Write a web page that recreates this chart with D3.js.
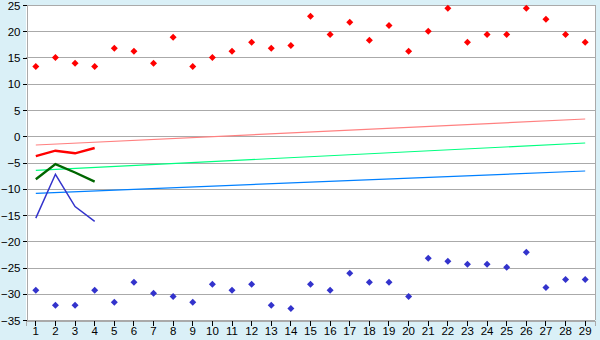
<!DOCTYPE html>
<html>
<head>
<meta charset="utf-8">
<script src="https://cdn.jsdelivr.net/npm/d3@7"></script>
<style>
  body { margin: 0; background: #daf0f7; }
  svg { display: block; }
  .tick text { font-family: "Liberation Sans", Arial, sans-serif; font-size: 11.5px; fill: #000; }
</style>
</head>
<body>
<svg id="chart" width="600" height="340"></svg>
<script>
// categories on the x axis
const days = d3.range(1, 30);

// upper scatter (red) and lower scatter (blue)
const highs = [13.3, 15.0, 13.9, 13.3, 16.75, 16.2, 13.9, 18.85, 13.3, 15.0,
  16.2, 17.9, 16.75, 17.3, 22.85, 19.4, 21.7, 18.3, 21.1, 16.2,
  20.0, 24.4, 17.9, 19.4, 19.4, 24.4, 22.3, 19.4, 17.9];
const lows = [-29.35, -32.2, -32.2, -29.35, -31.6, -27.8, -29.9, -30.5, -31.6, -28.2,
  -29.35, -28.2, -32.2, -32.8, -28.2, -29.35, -26.1, -27.8, -27.8, -30.5,
  -23.25, -23.8, -24.4, -24.4, -24.95, -22.1, -28.8, -27.3, -27.3];

// short series over the first four days
const shortRed = [-3.8, -2.75, -3.25, -2.24];
const shortGreen = [-8.2, -5.3, -6.9, -8.65];
const shortBlue = [-15.6, -7.25, -13.4, -16.2];

// trend lines: value at day 1 and day 29
const trendPink = [-1.67, 3.29];
const trendGreen = [-6.5, -1.29];
const trendBlue = [-10.87, -6.62];

const yTicks = d3.range(-35, 26, 5);

const svg = d3.select('#chart');
const mLeft = 26, mRight = 595, mTop = 5, mBottom = 320;

const x = d3.scaleBand().domain(days).range([mLeft, mRight]);
const cx = d => x(d) + x.bandwidth() / 2;
const y = d3.scaleLinear().domain([-35, 25]).range([mBottom, mTop]);

svg.append('rect')
    .attr('x', mLeft).attr('y', mTop)
    .attr('width', mRight - mLeft).attr('height', mBottom - mTop)
    .attr('fill', '#fff');

// grid
svg.append('g')
    .selectAll('line')
    .data(yTicks)
    .join('line')
        .attr('x1', mLeft).attr('x2', mRight)
        .attr('y1', d => Math.round(y(d)) + 0.5)
        .attr('y2', d => Math.round(y(d)) + 0.5)
        .attr('stroke', '#aaa')
        .attr('shape-rendering', 'crispEdges');

svg.append('line')
    .attr('x1', mRight + 0.5).attr('x2', mRight + 0.5)
    .attr('y1', mTop).attr('y2', mBottom)
    .attr('stroke', '#aaa')
    .attr('shape-rendering', 'crispEdges');

// axes
const yAxis = svg.append('g')
    .attr('transform', `translate(${mLeft + 0.5},0)`)
    .call(d3.axisLeft(y).tickValues(yTicks).tickSize(4).tickPadding(2).tickFormat(d3.format('d')));
const xAxis = svg.append('g')
    .attr('transform', `translate(0,${mBottom + 0.5})`)
    .call(d3.axisBottom(x).tickSize(5).tickPadding(3));
[yAxis, xAxis].forEach(a => {
    a.select('.domain').attr('stroke', '#aaa').attr('shape-rendering', 'crispEdges');
    a.selectAll('.tick line').attr('stroke', '#000').attr('shape-rendering', 'crispEdges');
});
xAxis.selectAll('.tick text').attr('dy', '0.6em');
yAxis.selectAll('.tick text').attr('dy', '0.35em');

// trend lines
const trends = [[trendPink, '#ff8080'], [trendGreen, '#00ff80'], [trendBlue, '#0080ff']];
svg.append('g')
    .selectAll('line')
    .data(trends)
    .join('line')
        .attr('x1', cx(days[0])).attr('x2', cx(days[days.length - 1]))
        .attr('y1', d => y(d[0][0])).attr('y2', d => y(d[0][1]))
        .attr('stroke', d => d[1])
        .attr('stroke-width', 1.2);

// short series
const line = d3.line().x((d, i) => cx(days[i])).y(d => y(d));
const shorts = [[shortRed, '#ff0000', 2.4], [shortGreen, '#006600', 2.4], [shortBlue, '#3333cc', 1.5]];
svg.append('g')
    .selectAll('path')
    .data(shorts)
    .join('path')
        .attr('d', d => line(d[0]))
        .attr('fill', 'none')
        .attr('stroke', d => d[1])
        .attr('stroke-width', d => d[2]);

// markers
const diamond = 'M0,-3.5L3.5,0L0,3.5L-3.5,0Z';
const markers = [[highs, '#ff0000'], [lows, '#3333cc']];
markers.forEach(([vals, col]) => {
    svg.append('g')
        .selectAll('path')
        .data(vals)
        .join('path')
            .attr('d', diamond)
            .attr('transform', (d, i) => `translate(${cx(days[i])},${y(d)})`)
            .attr('fill', col);
});
</script>
</body>
</html>
